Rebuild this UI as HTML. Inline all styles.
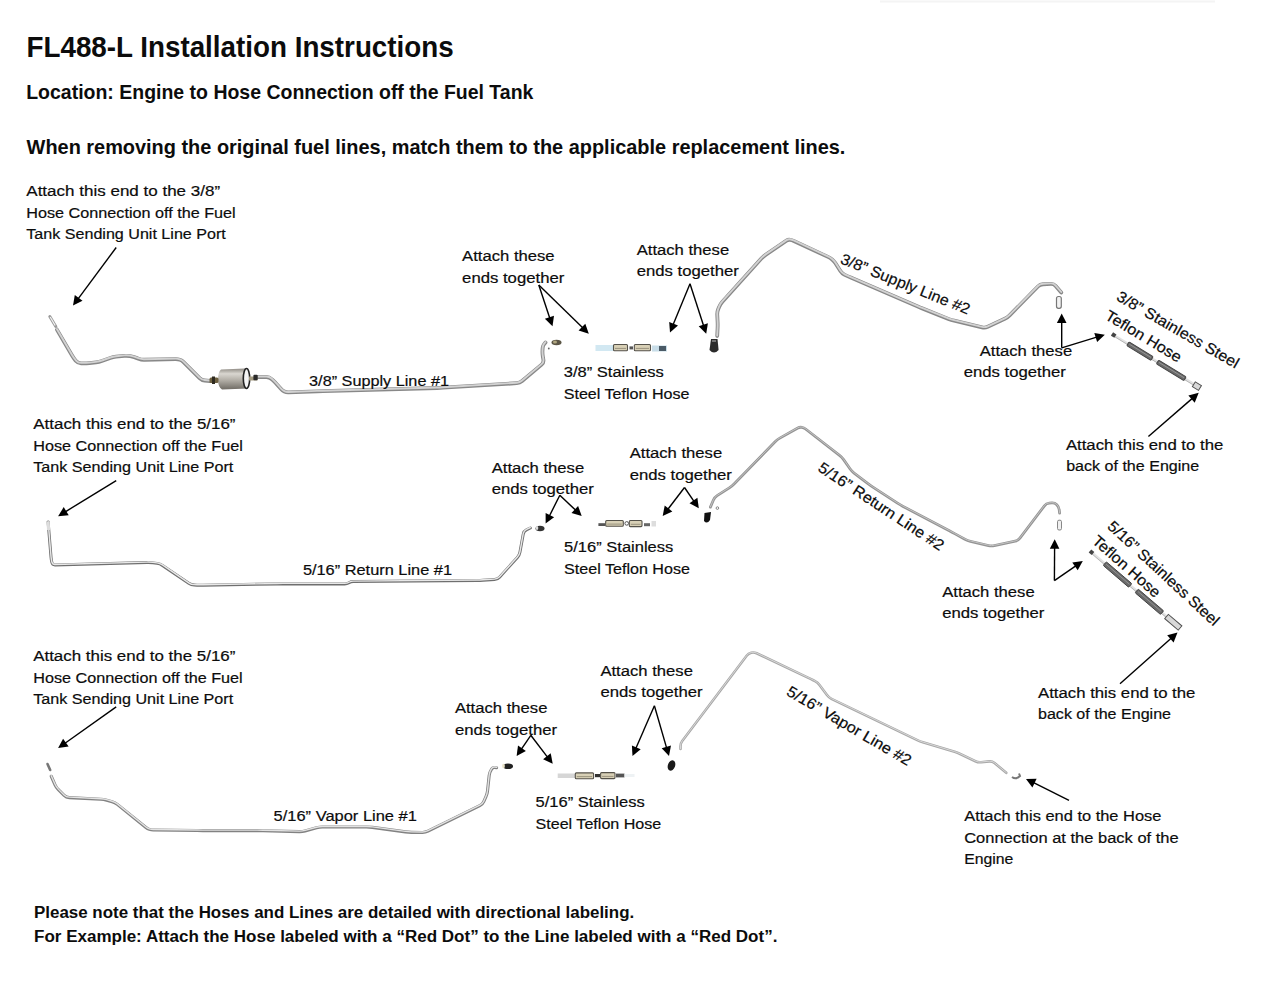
<!DOCTYPE html>
<html><head><meta charset="utf-8"><title>FL488-L Installation Instructions</title>
<style>
html,body{margin:0;padding:0;background:#fff;}
body{width:1280px;height:989px;overflow:hidden;position:relative;}
svg{position:absolute;left:0;top:0;}
text{font-family:"Liberation Sans",sans-serif;fill:#0c0c0c;}
text.r{stroke:#0c0c0c;stroke-width:0.2px;}
</style></head><body>
<svg width="1280" height="989" viewBox="0 0 1280 989">
<line x1="880" y1="1.5" x2="1215" y2="1.5" stroke="#f4f4f4" stroke-width="2"/>
<path d="M56.90 329.60 L72.24 355.81 Q73.75 358.40 75.69 360.69 L76.06 361.11 Q78.00 363.40 81.00 363.40 L83.40 363.40 Q86.40 363.40 89.38 363.07 L96.02 362.33 Q99.00 362.00 101.83 361.00 L110.27 358.00 Q113.10 357.00 116.09 356.70 L124.21 355.90 Q127.20 355.60 130.14 356.19 L131.26 356.41 Q134.20 357.00 136.99 358.11 L138.46 358.69 Q141.25 359.80 144.25 359.74 L175.59 359.14 Q177.80 359.10 179.90 359.80 L179.90 359.80 Q182.00 360.50 183.57 362.07 L199.58 378.08 Q201.70 380.20 204.69 380.49 L210.00 381.00" fill="none" stroke="#888888" stroke-width="3.8" stroke-linejoin="round" stroke-linecap="round"/>
<path d="M56.90 329.60 L72.24 355.81 Q73.75 358.40 75.69 360.69 L76.06 361.11 Q78.00 363.40 81.00 363.40 L83.40 363.40 Q86.40 363.40 89.38 363.07 L96.02 362.33 Q99.00 362.00 101.83 361.00 L110.27 358.00 Q113.10 357.00 116.09 356.70 L124.21 355.90 Q127.20 355.60 130.14 356.19 L131.26 356.41 Q134.20 357.00 136.99 358.11 L138.46 358.69 Q141.25 359.80 144.25 359.74 L175.59 359.14 Q177.80 359.10 179.90 359.80 L179.90 359.80 Q182.00 360.50 183.57 362.07 L199.58 378.08 Q201.70 380.20 204.69 380.49 L210.00 381.00" transform="translate(0 -0.5)" fill="none" stroke="#d2d2d2" stroke-width="1.9" stroke-linejoin="round" stroke-linecap="round"/>
<path d="M257.70 377.00 L266.40 377.00 Q269.40 377.00 271.60 379.04 L272.80 380.16 Q275.00 382.20 277.00 384.44 L281.10 389.03 Q282.50 390.60 284.38 391.55 L284.38 391.55 Q286.25 392.50 288.35 392.43 L317.00 391.41 Q320.00 391.30 323.00 391.22 L437.00 387.98 Q440.00 387.90 442.99 387.72 L516.81 383.18 Q519.80 383.00 522.09 381.07 L541.61 364.63 Q543.90 362.70 543.39 359.74 L542.81 356.36 Q542.30 353.40 542.50 350.41 L542.66 347.93 Q542.80 345.80 544.15 344.15 L545.50 342.50" fill="none" stroke="#888888" stroke-width="3.8" stroke-linejoin="round" stroke-linecap="round"/>
<path d="M257.70 377.00 L266.40 377.00 Q269.40 377.00 271.60 379.04 L272.80 380.16 Q275.00 382.20 277.00 384.44 L281.10 389.03 Q282.50 390.60 284.38 391.55 L284.38 391.55 Q286.25 392.50 288.35 392.43 L317.00 391.41 Q320.00 391.30 323.00 391.22 L437.00 387.98 Q440.00 387.90 442.99 387.72 L516.81 383.18 Q519.80 383.00 522.09 381.07 L541.61 364.63 Q543.90 362.70 543.39 359.74 L542.81 356.36 Q542.30 353.40 542.50 350.41 L542.66 347.93 Q542.80 345.80 544.15 344.15 L545.50 342.50" transform="translate(0 -0.5)" fill="none" stroke="#d2d2d2" stroke-width="1.9" stroke-linejoin="round" stroke-linecap="round"/>
<path d="M717.20 336.00 L717.60 328.00 Q717.75 325.00 717.60 322.00 L717.25 314.80 Q717.10 311.80 718.26 309.03 L719.24 306.67 Q720.40 303.90 722.41 301.67 L761.09 258.83 Q763.10 256.60 765.58 254.91 L786.47 240.61 Q788.10 239.50 790.05 239.80 L790.05 239.80 Q792.00 240.10 793.79 240.93 L827.98 256.86 Q830.20 257.90 832.10 259.45 L832.10 259.45 Q834.00 261.00 835.31 263.07 L840.39 271.07 Q842.00 273.60 844.72 274.87 L845.28 275.13 Q848.00 276.40 850.75 277.59 L917.25 306.31 Q920.00 307.50 922.79 308.61 L948.46 318.89 Q951.25 320.00 954.17 320.70 L982.08 327.40 Q985.00 328.10 987.71 326.82 L1004.79 318.78 Q1007.50 317.50 1009.60 315.36 L1037.90 286.54 Q1040.00 284.40 1043.00 284.26 L1050.75 283.89 Q1053.75 283.75 1055.70 286.03 L1061.25 292.50" fill="none" stroke="#888888" stroke-width="3.8" stroke-linejoin="round" stroke-linecap="round"/>
<path d="M717.20 336.00 L717.60 328.00 Q717.75 325.00 717.60 322.00 L717.25 314.80 Q717.10 311.80 718.26 309.03 L719.24 306.67 Q720.40 303.90 722.41 301.67 L761.09 258.83 Q763.10 256.60 765.58 254.91 L786.47 240.61 Q788.10 239.50 790.05 239.80 L790.05 239.80 Q792.00 240.10 793.79 240.93 L827.98 256.86 Q830.20 257.90 832.10 259.45 L832.10 259.45 Q834.00 261.00 835.31 263.07 L840.39 271.07 Q842.00 273.60 844.72 274.87 L845.28 275.13 Q848.00 276.40 850.75 277.59 L917.25 306.31 Q920.00 307.50 922.79 308.61 L948.46 318.89 Q951.25 320.00 954.17 320.70 L982.08 327.40 Q985.00 328.10 987.71 326.82 L1004.79 318.78 Q1007.50 317.50 1009.60 315.36 L1037.90 286.54 Q1040.00 284.40 1043.00 284.26 L1050.75 283.89 Q1053.75 283.75 1055.70 286.03 L1061.25 292.50" transform="translate(0 -0.5)" fill="none" stroke="#d2d2d2" stroke-width="1.9" stroke-linejoin="round" stroke-linecap="round"/>
<path d="M48.10 521.90 L51.04 557.43 Q51.25 560.00 51.88 562.50 L51.88 562.50 Q52.50 565.00 55.08 564.93 L147.00 562.58 Q150.00 562.50 152.98 562.87 L157.02 563.38 Q160.00 563.75 162.48 565.44 L188.77 583.31 Q191.25 585.00 194.25 585.10 L197.00 585.20 Q200.00 585.30 203.00 585.25 L277.00 583.95 Q280.00 583.90 283.00 583.90 L344.69 583.90 Q347.00 583.90 349.00 582.75 L349.00 582.75 Q351.00 581.60 353.31 581.58 L477.00 580.53 Q480.00 580.50 482.99 580.31 L494.51 579.59 Q497.50 579.40 499.52 577.18 L517.38 557.52 Q519.40 555.30 519.93 552.35 L523.22 534.20 Q523.75 531.25 526.44 529.92 L530.30 528.00" fill="none" stroke="#6f6f6f" stroke-width="3.0" stroke-linejoin="round" stroke-linecap="round"/>
<path d="M48.10 521.90 L51.04 557.43 Q51.25 560.00 51.88 562.50 L51.88 562.50 Q52.50 565.00 55.08 564.93 L147.00 562.58 Q150.00 562.50 152.98 562.87 L157.02 563.38 Q160.00 563.75 162.48 565.44 L188.77 583.31 Q191.25 585.00 194.25 585.10 L197.00 585.20 Q200.00 585.30 203.00 585.25 L277.00 583.95 Q280.00 583.90 283.00 583.90 L344.69 583.90 Q347.00 583.90 349.00 582.75 L349.00 582.75 Q351.00 581.60 353.31 581.58 L477.00 580.53 Q480.00 580.50 482.99 580.31 L494.51 579.59 Q497.50 579.40 499.52 577.18 L517.38 557.52 Q519.40 555.30 519.93 552.35 L523.22 534.20 Q523.75 531.25 526.44 529.92 L530.30 528.00" transform="translate(0 -0.5)" fill="none" stroke="#e8e8e8" stroke-width="1.4" stroke-linejoin="round" stroke-linecap="round"/>
<path d="M710.40 507.10 L713.42 500.06 Q714.60 497.30 717.12 495.68 L729.68 487.62 Q732.20 486.00 734.29 483.85 L775.11 441.75 Q777.20 439.60 779.82 438.13 L797.84 428.04 Q799.70 427.00 801.80 427.35 L801.80 427.35 Q803.90 427.70 805.58 429.01 L839.53 455.36 Q841.90 457.20 843.62 459.66 L849.98 468.79 Q851.70 471.25 854.08 473.08 L867.62 483.47 Q870.00 485.30 872.52 486.93 L897.48 503.17 Q900.00 504.80 902.65 506.20 L949.35 530.80 Q952.00 532.20 954.64 533.63 L964.86 539.17 Q967.50 540.60 970.42 541.29 L988.48 545.56 Q991.40 546.25 994.34 545.63 L1015.16 541.22 Q1018.10 540.60 1019.91 538.21 L1044.44 505.79 Q1046.25 503.40 1049.24 503.15 L1051.74 502.95 Q1054.70 502.70 1056.80 504.80 L1056.80 504.80 Q1058.90 506.90 1059.23 509.85 L1059.60 513.20" fill="none" stroke="#949494" stroke-width="2.8" stroke-linejoin="round" stroke-linecap="round"/>
<path d="M710.40 507.10 L713.42 500.06 Q714.60 497.30 717.12 495.68 L729.68 487.62 Q732.20 486.00 734.29 483.85 L775.11 441.75 Q777.20 439.60 779.82 438.13 L797.84 428.04 Q799.70 427.00 801.80 427.35 L801.80 427.35 Q803.90 427.70 805.58 429.01 L839.53 455.36 Q841.90 457.20 843.62 459.66 L849.98 468.79 Q851.70 471.25 854.08 473.08 L867.62 483.47 Q870.00 485.30 872.52 486.93 L897.48 503.17 Q900.00 504.80 902.65 506.20 L949.35 530.80 Q952.00 532.20 954.64 533.63 L964.86 539.17 Q967.50 540.60 970.42 541.29 L988.48 545.56 Q991.40 546.25 994.34 545.63 L1015.16 541.22 Q1018.10 540.60 1019.91 538.21 L1044.44 505.79 Q1046.25 503.40 1049.24 503.15 L1051.74 502.95 Q1054.70 502.70 1056.80 504.80 L1056.80 504.80 Q1058.90 506.90 1059.23 509.85 L1059.60 513.20" transform="translate(0 -0.3)" fill="none" stroke="#c8c8c8" stroke-width="0.9" stroke-linejoin="round" stroke-linecap="round"/>
<path d="M51.25 776.25 L55.03 784.76 Q56.25 787.50 58.37 789.62 L64.13 795.38 Q66.25 797.50 69.25 797.65 L100.75 799.25 Q103.75 799.40 106.64 800.20 L112.11 801.70 Q115.00 802.50 117.33 804.39 L145.96 827.51 Q147.50 828.75 149.38 829.38 L149.38 829.38 Q151.25 830.00 153.23 830.02 L197.00 830.56 Q200.00 830.60 203.00 830.60 L257.00 830.60 Q260.00 830.60 263.00 830.68 L299.20 831.62 Q302.20 831.70 305.09 830.91 L316.51 827.79 Q319.40 827.00 322.40 827.00 L366.40 827.00 Q369.40 827.00 372.37 827.40 L405.43 831.90 Q408.40 832.30 411.40 832.34 L422.30 832.46 Q425.30 832.50 427.99 831.18 L479.81 805.72 Q482.50 804.40 483.74 801.67 L485.96 796.73 Q487.20 794.00 487.52 791.02 L489.18 775.48 Q489.50 772.50 491.11 769.97 L491.77 768.92 Q492.80 767.30 494.70 767.55 L496.60 767.80" fill="none" stroke="#828282" stroke-width="3.1" stroke-linejoin="round" stroke-linecap="round"/>
<path d="M51.25 776.25 L55.03 784.76 Q56.25 787.50 58.37 789.62 L64.13 795.38 Q66.25 797.50 69.25 797.65 L100.75 799.25 Q103.75 799.40 106.64 800.20 L112.11 801.70 Q115.00 802.50 117.33 804.39 L145.96 827.51 Q147.50 828.75 149.38 829.38 L149.38 829.38 Q151.25 830.00 153.23 830.02 L197.00 830.56 Q200.00 830.60 203.00 830.60 L257.00 830.60 Q260.00 830.60 263.00 830.68 L299.20 831.62 Q302.20 831.70 305.09 830.91 L316.51 827.79 Q319.40 827.00 322.40 827.00 L366.40 827.00 Q369.40 827.00 372.37 827.40 L405.43 831.90 Q408.40 832.30 411.40 832.34 L422.30 832.46 Q425.30 832.50 427.99 831.18 L479.81 805.72 Q482.50 804.40 483.74 801.67 L485.96 796.73 Q487.20 794.00 487.52 791.02 L489.18 775.48 Q489.50 772.50 491.11 769.97 L491.77 768.92 Q492.80 767.30 494.70 767.55 L496.60 767.80" transform="translate(0 -0.5)" fill="none" stroke="#e2e2e2" stroke-width="1.4" stroke-linejoin="round" stroke-linecap="round"/>
<path d="M680.50 749.00 L680.50 746.15 Q680.50 743.30 682.22 741.03 L746.66 655.70 Q748.40 653.40 751.20 652.70 L751.20 652.70 Q754.00 652.00 756.61 653.24 L807.89 677.61 Q810.60 678.90 813.28 680.26 L815.02 681.14 Q817.70 682.50 819.48 684.92 L826.97 695.08 Q828.75 697.50 831.45 698.80 L917.30 740.10 Q920.00 741.40 922.87 742.27 L954.63 751.83 Q957.50 752.70 960.21 753.99 L975.39 761.21 Q978.10 762.50 981.09 762.20 L989.21 761.40 Q992.20 761.10 994.51 763.02 L1006.25 772.80" fill="none" stroke="#a8a8a8" stroke-width="2.6" stroke-linejoin="round" stroke-linecap="round"/>
<path d="M680.50 749.00 L680.50 746.15 Q680.50 743.30 682.22 741.03 L746.66 655.70 Q748.40 653.40 751.20 652.70 L751.20 652.70 Q754.00 652.00 756.61 653.24 L807.89 677.61 Q810.60 678.90 813.28 680.26 L815.02 681.14 Q817.70 682.50 819.48 684.92 L826.97 695.08 Q828.75 697.50 831.45 698.80 L917.30 740.10 Q920.00 741.40 922.87 742.27 L954.63 751.83 Q957.50 752.70 960.21 753.99 L975.39 761.21 Q978.10 762.50 981.09 762.20 L989.21 761.40 Q992.20 761.10 994.51 763.02 L1006.25 772.80" transform="translate(0 -0.2)" fill="none" stroke="#dddddd" stroke-width="0.9" stroke-linejoin="round" stroke-linecap="round"/>
<path d="M49.8 316.5 L55.8 326.5" stroke="#9a9a9a" stroke-width="3" stroke-linecap="round"/><path d="M50.2 317 L55.2 325.5" stroke="#f4f4f4" stroke-width="1.2"/>
<path d="M47.5 764 L50.2 770" stroke="#777" stroke-width="2.6" stroke-linecap="round"/>
<path d="M48.1 521.9 L48.6 530" stroke="#ddd" stroke-width="3.2"/>
<defs><linearGradient id="fg" x1="0" y1="0" x2="0" y2="1"><stop offset="0" stop-color="#8f8b84"/><stop offset="0.25" stop-color="#d9d6d0"/><stop offset="0.55" stop-color="#b3afa7"/><stop offset="1" stop-color="#6f6b64"/></linearGradient></defs>
<path d="M221 369.5 L245 368.5 L248 388.5 L222 389.5 Q218 387 218 379.5 Q218 372 221 369.5Z" fill="url(#fg)"/>
<ellipse cx="246.5" cy="378.5" rx="3.2" ry="10" fill="#f5f5f5" stroke="#222" stroke-width="1.6"/>
<rect x="209.5" y="377.5" width="9" height="5.5" rx="1.5" fill="#6d6040"/><rect x="212" y="376.5" width="3" height="7.5" fill="#2e2a20"/>
<rect x="249" y="376.5" width="8.5" height="4" fill="#a39a80"/><rect x="253.4" y="374.7" width="4.3" height="5.5" rx="1" fill="#2a2a2a"/>
<ellipse cx="556.5" cy="342.5" rx="5" ry="2.8" fill="#5c5646"/><ellipse cx="555" cy="342" rx="2" ry="1.5" fill="#b0a680"/><circle cx="548.8" cy="348.5" r="0.9" fill="#666"/>
<path d="M711 339 L717.5 339 L718.6 350 Q714 355 709.5 350 Z" fill="#2b2b2b"/><path d="M712 341 L716 341" stroke="#bbb" stroke-width="1"/>
<rect x="1056.5" y="296.5" width="4.8" height="11.8" rx="2" fill="#f2f2f2" stroke="#777" stroke-width="1.2"/>
<path d="M704.5 513 L711 512 L710 520 Q707 524.5 704 521 Z" fill="#111"/><circle cx="717.4" cy="508.1" r="1.3" fill="none" stroke="#777" stroke-width="0.9"/>
<ellipse cx="540" cy="528.5" rx="4.5" ry="2.8" fill="#333"/><ellipse cx="537" cy="528" rx="1.3" ry="2" fill="#ddd"/>
<rect x="1057.5" y="520.2" width="4" height="9.8" rx="1.5" fill="#f0f0f0" stroke="#888" stroke-width="1"/>
<ellipse cx="508" cy="766.3" rx="5" ry="2.8" fill="#222"/><ellipse cx="503.5" cy="766" rx="1.4" ry="2.3" fill="#e8e2c8"/>
<ellipse cx="671.5" cy="765.5" rx="3.6" ry="5.3" transform="rotate(20 671.5 765.5)" fill="#1a1a1a"/>
<path d="M1012 777 Q1016 780 1020 776 L1019 773.5" fill="none" stroke="#777" stroke-width="2"/>
<rect x="595.5" y="345" width="18" height="6" fill="#d2e8f2"/><rect x="652" y="345.5" width="15" height="6" fill="#c8dde8"/><rect x="659" y="346" width="7" height="5" fill="#4a5a66"/>
<rect x="613.5" y="344.5" width="14.0" height="6.3" rx="1" fill="#d8d0b6" stroke="#55524a" stroke-width="1.1"/><line x1="615.0" y1="348.4" x2="626.0" y2="348.4" stroke="#8a8470" stroke-width="0.8"/><rect x="634.3" y="344.5" width="16.2" height="6.3" rx="1" fill="#d8d0b6" stroke="#55524a" stroke-width="1.1"/><line x1="635.8" y1="348.4" x2="649.0" y2="348.4" stroke="#8a8470" stroke-width="0.8"/><rect x="629.5" y="346.4" width="3.5" height="3" fill="#555"/>
<rect x="598.4" y="523.2" width="7" height="2.8" fill="#555"/><rect x="644" y="523.2" width="6" height="3" fill="#666"/><rect x="651.5" y="521" width="4.5" height="5.5" fill="#ddd"/>
<rect x="605.7" y="520.5" width="17.6" height="5.7" rx="1" fill="#d8d0b6" stroke="#55524a" stroke-width="1.1"/><line x1="607.2" y1="524.1" x2="621.8" y2="524.1" stroke="#8a8470" stroke-width="0.8"/><rect x="629.3" y="520.5" width="12.7" height="6.1" rx="1" fill="#d8d0b6" stroke="#55524a" stroke-width="1.1"/><line x1="630.8" y1="524.3" x2="640.5" y2="524.3" stroke="#8a8470" stroke-width="0.8"/><circle cx="626.7" cy="523.4" r="1.8" fill="none" stroke="#555" stroke-width="1"/>
<rect x="557.7" y="773.5" width="17.6" height="4.5" fill="#d6d6d6"/><rect x="616" y="773.6" width="8.5" height="3.8" fill="#555"/><rect x="624.5" y="774" width="10" height="3" fill="#eef2f4"/>
<rect x="575.3" y="772.9" width="18.3" height="5.9" rx="1" fill="#d8d0b6" stroke="#55524a" stroke-width="1.1"/><line x1="576.8" y1="776.6" x2="592.1" y2="776.6" stroke="#8a8470" stroke-width="0.8"/><rect x="600.6" y="772.6" width="14.4" height="6.0" rx="1" fill="#d8d0b6" stroke="#55524a" stroke-width="1.1"/><line x1="602.1" y1="776.4" x2="613.5" y2="776.4" stroke="#8a8470" stroke-width="0.8"/><rect x="595" y="774" width="5" height="3.2" fill="#333"/>
<g transform="translate(1112.0 334.0) rotate(31.53)"><rect x="0" y="-1.3" width="103.2" height="2.6" fill="#e2e2e2"/><line x1="0" y1="0.9" x2="103.2" y2="0.9" stroke="#b0b0b0" stroke-width="0.8"/><rect x="0" y="-2" width="4" height="4" fill="#444"/><rect x="18.6" y="-2.2" width="28.4" height="4.4" rx="1" fill="#6a6a6a" stroke="#404040" stroke-width="0.9"/><line x1="20.1" y1="-0.4" x2="45.5" y2="-0.4" stroke="#9a9a9a" stroke-width="0.8"/><rect x="53.4" y="-2.2" width="32.3" height="4.4" rx="1" fill="#6a6a6a" stroke="#404040" stroke-width="0.9"/><line x1="54.9" y1="-0.4" x2="84.2" y2="-0.4" stroke="#9a9a9a" stroke-width="0.8"/><rect x="96.0" y="-2.8" width="7.2" height="5.6" fill="#d8d8d8" stroke="#505050" stroke-width="1"/></g>
<g transform="translate(1090.0 551.0) rotate(40.55)"><rect x="0" y="-1.3" width="118.4" height="2.6" fill="#e2e2e2"/><line x1="0" y1="0.9" x2="118.4" y2="0.9" stroke="#b0b0b0" stroke-width="0.8"/><rect x="0" y="-2" width="4" height="4" fill="#444"/><rect x="19.4" y="-2.4" width="33.6" height="4.8" rx="1" fill="#6a6a6a" stroke="#404040" stroke-width="0.9"/><line x1="20.9" y1="-0.4" x2="51.6" y2="-0.4" stroke="#9a9a9a" stroke-width="0.8"/><rect x="61.4" y="-2.4" width="33.5" height="4.8" rx="1" fill="#6a6a6a" stroke="#404040" stroke-width="0.9"/><line x1="62.9" y1="-0.4" x2="93.4" y2="-0.4" stroke="#9a9a9a" stroke-width="0.8"/><rect x="100.7" y="-2.8" width="17.8" height="5.6" fill="#d8d8d8" stroke="#505050" stroke-width="1"/></g>
<line x1="116.2" y1="247.5" x2="78.1" y2="298.8" stroke="#000" stroke-width="1.4"/>
<polygon points="73.0,305.6 74.8,295.1 82.5,300.8" fill="#000"/>
<line x1="538.8" y1="285.0" x2="549.8" y2="318.2" stroke="#000" stroke-width="1.4"/>
<polygon points="552.5,326.2 544.9,318.8 554.0,315.7" fill="#000"/>
<line x1="538.8" y1="285.0" x2="582.7" y2="327.8" stroke="#000" stroke-width="1.4"/>
<polygon points="588.8,333.8 578.6,330.6 585.3,323.7" fill="#000"/>
<line x1="690.0" y1="283.8" x2="673.2" y2="324.6" stroke="#000" stroke-width="1.4"/>
<polygon points="670.0,332.5 669.2,321.9 678.0,325.5" fill="#000"/>
<line x1="690.0" y1="283.8" x2="703.6" y2="325.7" stroke="#000" stroke-width="1.4"/>
<polygon points="706.2,333.8 698.7,326.2 707.9,323.2" fill="#000"/>
<line x1="1061.7" y1="347.8" x2="1061.7" y2="322.1" stroke="#000" stroke-width="1.4"/>
<polygon points="1061.7,313.6 1066.5,323.1 1056.9,323.1" fill="#000"/>
<line x1="1061.7" y1="347.8" x2="1096.7" y2="337.2" stroke="#000" stroke-width="1.4"/>
<polygon points="1104.8,334.7 1097.1,342.1 1094.3,332.9" fill="#000"/>
<line x1="1148.4" y1="436.5" x2="1192.3" y2="398.4" stroke="#000" stroke-width="1.4"/>
<polygon points="1198.7,392.8 1194.7,402.7 1188.4,395.4" fill="#000"/>
<line x1="116.2" y1="480.6" x2="65.3" y2="511.8" stroke="#000" stroke-width="1.4"/>
<polygon points="58.1,516.2 63.7,507.1 68.7,515.3" fill="#000"/>
<line x1="559.8" y1="495.2" x2="549.4" y2="516.0" stroke="#000" stroke-width="1.4"/>
<polygon points="545.6,523.6 545.6,513.0 554.1,517.2" fill="#000"/>
<line x1="559.8" y1="495.2" x2="575.5" y2="510.1" stroke="#000" stroke-width="1.4"/>
<polygon points="581.7,516.0 571.5,512.9 578.1,506.0" fill="#000"/>
<line x1="684.5" y1="487.5" x2="667.9" y2="509.2" stroke="#000" stroke-width="1.4"/>
<polygon points="662.7,516.0 664.7,505.5 672.3,511.4" fill="#000"/>
<line x1="684.5" y1="487.5" x2="694.0" y2="501.3" stroke="#000" stroke-width="1.4"/>
<polygon points="698.8,508.3 689.5,503.2 697.4,497.8" fill="#000"/>
<line x1="1054.4" y1="580.6" x2="1054.6" y2="547.7" stroke="#000" stroke-width="1.4"/>
<polygon points="1054.7,539.2 1059.4,548.7 1049.8,548.7" fill="#000"/>
<line x1="1054.4" y1="580.6" x2="1075.8" y2="565.8" stroke="#000" stroke-width="1.4"/>
<polygon points="1082.8,561.0 1077.7,570.3 1072.3,562.4" fill="#000"/>
<line x1="1120.0" y1="683.8" x2="1171.2" y2="638.2" stroke="#000" stroke-width="1.4"/>
<polygon points="1177.5,632.5 1173.6,642.4 1167.2,635.2" fill="#000"/>
<line x1="116.2" y1="706.9" x2="65.0" y2="743.2" stroke="#000" stroke-width="1.4"/>
<polygon points="58.1,748.1 63.1,738.7 68.6,746.5" fill="#000"/>
<line x1="530.8" y1="735.3" x2="521.4" y2="749.1" stroke="#000" stroke-width="1.4"/>
<polygon points="516.6,756.1 518.0,745.5 525.9,751.0" fill="#000"/>
<line x1="530.8" y1="735.3" x2="547.5" y2="757.1" stroke="#000" stroke-width="1.4"/>
<polygon points="552.7,763.8 543.1,759.2 550.7,753.3" fill="#000"/>
<line x1="654.4" y1="705.8" x2="635.9" y2="748.3" stroke="#000" stroke-width="1.4"/>
<polygon points="632.5,756.1 631.9,745.5 640.7,749.3" fill="#000"/>
<line x1="654.4" y1="705.8" x2="666.6" y2="747.9" stroke="#000" stroke-width="1.4"/>
<polygon points="669.0,756.1 661.7,748.3 671.0,745.6" fill="#000"/>
<line x1="1069.0" y1="800.3" x2="1033.6" y2="782.7" stroke="#000" stroke-width="1.4"/>
<polygon points="1026.0,778.9 1036.6,778.8 1032.4,787.4" fill="#000"/>
<text x="26.5" y="57.4" font-size="29.2" font-weight="bold" textLength="427.2" lengthAdjust="spacingAndGlyphs">FL488-L Installation Instructions</text>
<text x="26.2" y="98.8" font-size="20.5" font-weight="bold" textLength="507.2" lengthAdjust="spacingAndGlyphs">Location: Engine to Hose Connection off the Fuel Tank</text>
<text x="26.6" y="154.2" font-size="20.5" font-weight="bold" textLength="818.8" lengthAdjust="spacingAndGlyphs">When removing the original fuel lines, match them to the applicable replacement lines.</text>
<text class="r" x="26.3" y="195.9" font-size="15.3" textLength="193.8" lengthAdjust="spacingAndGlyphs">Attach this end to the 3/8”</text>
<text class="r" x="26.3" y="218.0" font-size="15.3" textLength="209.4" lengthAdjust="spacingAndGlyphs">Hose Connection off the Fuel</text>
<text class="r" x="26.3" y="239.4" font-size="15.3" textLength="199.5" lengthAdjust="spacingAndGlyphs">Tank Sending Unit Line Port</text>
<text class="r" x="462.1" y="261.1" font-size="15.3" textLength="92.5" lengthAdjust="spacingAndGlyphs">Attach these</text>
<text class="r" x="462.1" y="282.6" font-size="15.3" textLength="102.2" lengthAdjust="spacingAndGlyphs">ends together</text>
<text class="r" x="636.7" y="254.5" font-size="15.3" textLength="92.5" lengthAdjust="spacingAndGlyphs">Attach these</text>
<text class="r" x="636.7" y="275.9" font-size="15.3" textLength="102.2" lengthAdjust="spacingAndGlyphs">ends together</text>
<text class="r" x="979.7" y="355.6" font-size="15.3" textLength="92.5" lengthAdjust="spacingAndGlyphs">Attach these</text>
<text class="r" x="963.7" y="377.2" font-size="15.3" textLength="102.2" lengthAdjust="spacingAndGlyphs">ends together</text>
<text class="r" x="309.1" y="385.7" font-size="15.3" textLength="139.9" lengthAdjust="spacingAndGlyphs">3/8” Supply Line #1</text>
<text class="r" x="563.7" y="377.1" font-size="15.3" textLength="100.2" lengthAdjust="spacingAndGlyphs">3/8” Stainless</text>
<text class="r" x="563.7" y="399.2" font-size="15.3" textLength="125.8" lengthAdjust="spacingAndGlyphs">Steel Teflon Hose</text>
<text class="r" x="1065.9" y="450.3" font-size="15.3" textLength="157.4" lengthAdjust="spacingAndGlyphs">Attach this end to the</text>
<text class="r" x="1066.2" y="471.4" font-size="15.3" textLength="133.0" lengthAdjust="spacingAndGlyphs">back of the Engine</text>
<text class="r" x="839.5" y="263.0" font-size="15.3" textLength="138.0" lengthAdjust="spacingAndGlyphs" transform="rotate(22.00 839.5 263.0)">3/8” Supply Line #2</text>
<text class="r" x="1115.5" y="299.5" font-size="15.3" textLength="138.5" lengthAdjust="spacingAndGlyphs" transform="rotate(30.00 1115.5 299.5)">3/8” Stainless Steel</text>
<text class="r" x="1104.0" y="318.5" font-size="15.3" textLength="86.0" lengthAdjust="spacingAndGlyphs" transform="rotate(31.00 1104.0 318.5)">Teflon Hose</text>
<text class="r" x="33.3" y="428.7" font-size="15.3" textLength="202.2" lengthAdjust="spacingAndGlyphs">Attach this end to the 5/16”</text>
<text class="r" x="33.3" y="450.7" font-size="15.3" textLength="209.5" lengthAdjust="spacingAndGlyphs">Hose Connection off the Fuel</text>
<text class="r" x="33.3" y="471.9" font-size="15.3" textLength="200.0" lengthAdjust="spacingAndGlyphs">Tank Sending Unit Line Port</text>
<text class="r" x="491.7" y="472.5" font-size="15.3" textLength="92.5" lengthAdjust="spacingAndGlyphs">Attach these</text>
<text class="r" x="491.7" y="493.9" font-size="15.3" textLength="102.2" lengthAdjust="spacingAndGlyphs">ends together</text>
<text class="r" x="629.7" y="458.3" font-size="15.3" textLength="92.5" lengthAdjust="spacingAndGlyphs">Attach these</text>
<text class="r" x="629.7" y="479.5" font-size="15.3" textLength="102.2" lengthAdjust="spacingAndGlyphs">ends together</text>
<text class="r" x="564.1" y="552.3" font-size="15.3" textLength="109.2" lengthAdjust="spacingAndGlyphs">5/16” Stainless</text>
<text class="r" x="564.1" y="573.6" font-size="15.3" textLength="125.8" lengthAdjust="spacingAndGlyphs">Steel Teflon Hose</text>
<text class="r" x="302.9" y="574.7" font-size="15.3" textLength="149.1" lengthAdjust="spacingAndGlyphs">5/16” Return Line #1</text>
<text class="r" x="817.0" y="470.3" font-size="15.3" textLength="147.0" lengthAdjust="spacingAndGlyphs" transform="rotate(33.40 817.0 470.3)">5/16” Return Line #2</text>
<text class="r" x="1106.5" y="527.5" font-size="15.3" textLength="146.0" lengthAdjust="spacingAndGlyphs" transform="rotate(42.80 1106.5 527.5)">5/16” Stainless Steel</text>
<text class="r" x="1091.3" y="542.2" font-size="15.3" textLength="85.0" lengthAdjust="spacingAndGlyphs" transform="rotate(41.40 1091.3 542.2)">Teflon Hose</text>
<text class="r" x="942.2" y="596.5" font-size="15.3" textLength="92.5" lengthAdjust="spacingAndGlyphs">Attach these</text>
<text class="r" x="942.2" y="617.8" font-size="15.3" textLength="102.2" lengthAdjust="spacingAndGlyphs">ends together</text>
<text class="r" x="1038.0" y="697.8" font-size="15.3" textLength="157.4" lengthAdjust="spacingAndGlyphs">Attach this end to the</text>
<text class="r" x="1038.0" y="719.0" font-size="15.3" textLength="133.0" lengthAdjust="spacingAndGlyphs">back of the Engine</text>
<text class="r" x="33.2" y="661.3" font-size="15.3" textLength="202.2" lengthAdjust="spacingAndGlyphs">Attach this end to the 5/16”</text>
<text class="r" x="33.2" y="683.0" font-size="15.3" textLength="209.5" lengthAdjust="spacingAndGlyphs">Hose Connection off the Fuel</text>
<text class="r" x="33.2" y="704.4" font-size="15.3" textLength="200.0" lengthAdjust="spacingAndGlyphs">Tank Sending Unit Line Port</text>
<text class="r" x="454.9" y="712.6" font-size="15.3" textLength="92.5" lengthAdjust="spacingAndGlyphs">Attach these</text>
<text class="r" x="454.9" y="734.5" font-size="15.3" textLength="102.2" lengthAdjust="spacingAndGlyphs">ends together</text>
<text class="r" x="600.4" y="676.1" font-size="15.3" textLength="92.5" lengthAdjust="spacingAndGlyphs">Attach these</text>
<text class="r" x="600.4" y="697.3" font-size="15.3" textLength="102.2" lengthAdjust="spacingAndGlyphs">ends together</text>
<text class="r" x="535.5" y="807.4" font-size="15.3" textLength="109.2" lengthAdjust="spacingAndGlyphs">5/16” Stainless</text>
<text class="r" x="535.5" y="828.6" font-size="15.3" textLength="125.8" lengthAdjust="spacingAndGlyphs">Steel Teflon Hose</text>
<text class="r" x="273.6" y="821.1" font-size="15.3" textLength="143.3" lengthAdjust="spacingAndGlyphs">5/16” Vapor Line #1</text>
<text class="r" x="785.6" y="694.4" font-size="15.3" textLength="141.5" lengthAdjust="spacingAndGlyphs" transform="rotate(30.50 785.6 694.4)">5/16” Vapor Line #2</text>
<text class="r" x="964.2" y="821.3" font-size="15.3" textLength="197.2" lengthAdjust="spacingAndGlyphs">Attach this end to the Hose</text>
<text class="r" x="964.2" y="842.8" font-size="15.3" textLength="214.5" lengthAdjust="spacingAndGlyphs">Connection at the back of the</text>
<text class="r" x="964.2" y="864.3" font-size="15.3" textLength="49.2" lengthAdjust="spacingAndGlyphs">Engine</text>
<text x="34.0" y="918.3" font-size="17.4" font-weight="bold" textLength="600.2" lengthAdjust="spacingAndGlyphs">Please note that the Hoses and Lines are detailed with directional labeling.</text>
<text x="34.0" y="942.0" font-size="17.4" font-weight="bold" textLength="743.4" lengthAdjust="spacingAndGlyphs">For Example: Attach the Hose labeled with a “Red Dot” to the Line labeled with a “Red Dot”.</text>
</svg>
</body></html>
